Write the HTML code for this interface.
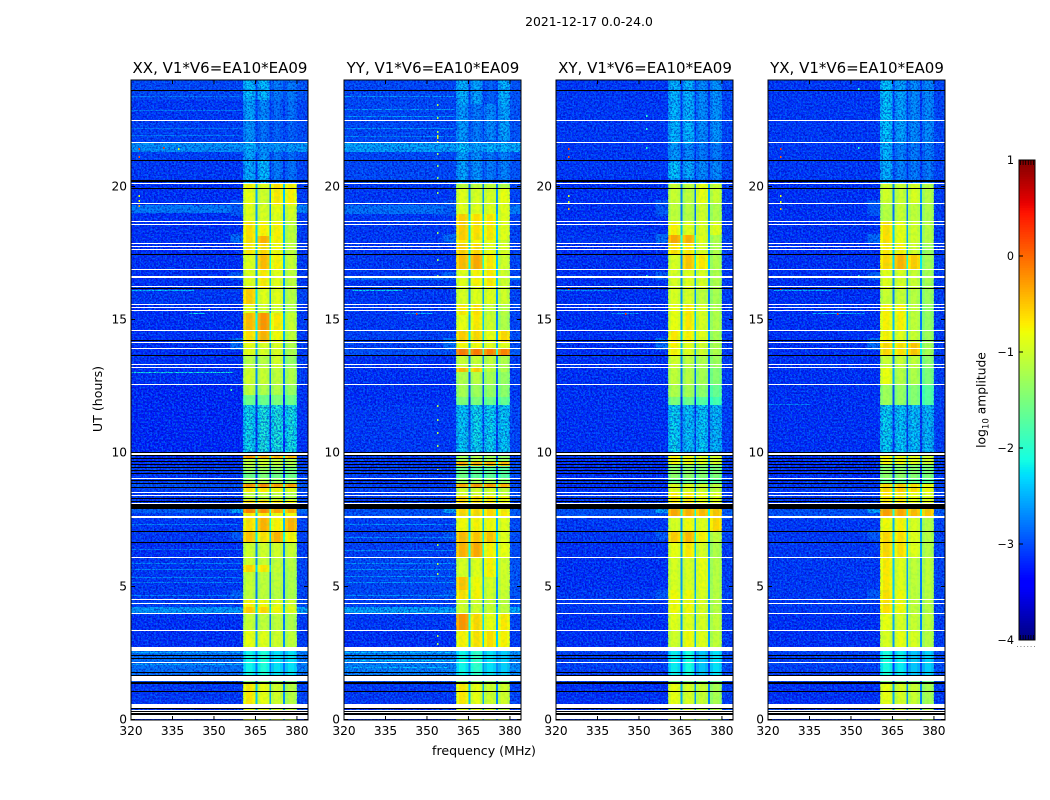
<!DOCTYPE html>
<html lang="en">
<head>
<meta charset="utf-8">
<title>2021-12-17 0.0-24.0</title>
<style>
html,body{margin:0;padding:0;background:#fff;}
svg{display:block;font-family:"DejaVu Sans","Liberation Sans",sans-serif;fill:#000;}
</style>
</head>
<body>
<svg id="figure" xmlns="http://www.w3.org/2000/svg" width="1050" height="800" viewBox="0 0 1050 800">
<defs>
<filter id="speckle" x="0" y="0" width="100%" height="100%" color-interpolation-filters="sRGB">
<feTurbulence type="fractalNoise" baseFrequency="0.55" numOctaves="2" seed="7"/>
<feColorMatrix type="matrix" values="0 0 0 0 0  0 0 0 0 0.04  0 0 0 0 0.7  5 0 0 0 -2.2"/>
</filter>
<filter id="speckle-light" x="0" y="0" width="100%" height="100%" color-interpolation-filters="sRGB">
<feTurbulence type="fractalNoise" baseFrequency="0.55" numOctaves="2" seed="23"/>
<feColorMatrix type="matrix" values="0 0 0 0 0  0 0 0 0 0.58  0 0 0 0 1  5 0 0 0 -2.3"/>
</filter>
<filter id="speckle-band" x="0" y="0" width="100%" height="100%" color-interpolation-filters="sRGB">
<feTurbulence type="fractalNoise" baseFrequency="0.3" numOctaves="2" seed="41"/>
<feColorMatrix type="matrix" values="0 0 0 0 0.2  0 0 0 0 0.9  0 0 0 0 0.4  5 0 0 0 -2.3"/>
</filter>
</defs>
<rect x="0" y="0" width="1050" height="800" fill="#fff"/>
<text x="589" y="26" font-size="12.4" text-anchor="middle">2021-12-17 0.0-24.0</text>
<text transform="translate(102,399) rotate(-90)" font-size="12.6" text-anchor="middle">UT (hours)</text>
<text x="484" y="755" font-size="12.6" text-anchor="middle">frequency (MHz)</text>
<text transform="translate(985.5,400) rotate(-90)" font-size="12.3" text-anchor="middle">log<tspan font-size="8.6" dy="3">10</tspan><tspan dy="-3"> amplitude</tspan></text>
<g id="panels"></g>
<g id="colorbar"></g>
</svg>
<script>
// Panel titles and axis ticks
const panelTitles = ["XX, V1*V6=EA10*EA09", "YY, V1*V6=EA10*EA09", "XY, V1*V6=EA10*EA09", "YX, V1*V6=EA10*EA09"];
const freqTicks = [320, 335, 350, 365, 380];
const hourTicks = [0, 5, 10, 15, 20];
const colorbarTicks = [1, 0, -1, -2, -3, -4];
const freqRange = [320, 384];
const hourRange = [0, 24];
const levelRange = [-4, 1];

// Frequency layout of the four active sub-bands (MHz)
const subbandEdges = [[360.5, 365], [365.7, 370], [370.7, 375], [375.7, 380]];
const subbandShape = [-0.02, 0.13, 0.13, 0.03];
const skirtStart = 356;
const gapDrop = 1.6;

// Time rows: [top hour, background, band 1, band 2, band 3, band 4] log10 amplitude
const rowsXX = [
[24,-3.05,-2.45,-2.45,-2.85,-2.85],[23.25,-3.15,-2.6,-2.75,-2.95,-2.9],[22.5,-3.1,-2.7,-2.9,-3,-3],
[21.638,-2.6,-2.5,-2.7,-2.65,-2.65],[21.3,-3.1,-2.6,-2.7,-2.9,-2.95],[21,-3.15,-2.55,-2.45,-2.85,-2.9],
[20.138,-3.2,-0.85,-1,-0.75,-0.85],[19.95,-3.2,-0.95,-1.1,-0.8,-0.85],[19.313,-2.75,-1,-1.05,-0.95,-1.05],
[19.013,-3.2,-1,-1.05,-1,-1.1],[18.713,-3.2,-0.75,-0.85,-0.85,-1.2],[18.15,-3.2,-0.75,-0.5,-0.85,-1.2],
[17.888,-3.2,-0.8,-0.7,-0.9,-1.2],[17.475,-3.2,-1,-0.55,-0.85,-1.15],[16.913,-3.2,-1,-0.8,-1,-1.2],
[16.2,-3.15,-0.65,-1,-1,-1.25],[15.6,-3.2,-1,-1.1,-1.1,-1.3],[15.263,-3.2,-0.55,-0.35,-0.8,-1.15],
[14.625,-3.2,-0.75,-0.5,-0.9,-1.2],[14.175,-3.2,-0.95,-1.05,-1.05,-1.3],[13.688,-3.2,-1.25,-1.25,-1.1,-1.45],
[13.238,-3.2,-1.1,-1.15,-1.2,-1.3],[12.6,-3.25,-1.2,-1.3,-1.3,-1.45],[12.188,-3.25,-1.7,-1.7,-1.6,-1.7],
[11.813,-3.25,-2.3,-2.2,-2.2,-2.25],[10.05,-3.2,-2.2,-2.2,-2.2,-2.2],
[9.9,-3.2,-0.35,-0.45,-0.5,-0.5],[9.825,-3.2,-1.2,-1.1,-1.2,-1.3],[9.525,-3.1,-1.4,-1.4,-1.5,-1.6],
[9.3,-3.15,-1.7,-1.6,-1.7,-1.7],[9.075,-3.1,-1.4,-1.3,-1.4,-1.5],[8.85,-3,-0.35,-0.3,-0.4,-0.4],
[8.7,-3.1,-0.8,-0.8,-0.9,-1],[8.55,-3.15,-1.2,-1.2,-1.2,-1.3],[8.25,-3.15,-0.7,-0.7,-0.8,-0.9],
[7.913,-2.9,-0.25,-0.3,-0.45,-0.5],[7.763,-3.1,-0.8,-0.8,-0.9,-0.9],[7.575,-3.15,-0.75,-0.5,-0.85,-0.5],
[7.088,-3.15,-0.6,-0.75,-0.5,-0.85],[6.675,-3.2,-1.1,-1.1,-1.1,-1.15],[6.113,-3.15,-1.1,-1.15,-1.2,-1.25],
[5.813,-3.15,-0.7,-0.8,-1.15,-1.25],[5.55,-3.15,-1.15,-1.2,-1.2,-1.3],[4.875,-3.15,-1.2,-1.2,-1.25,-1.3],
[4.538,-3.1,-0.85,-0.9,-1,-1.1],[4.238,-2.55,-0.65,-0.7,-0.9,-1],[3.975,-3.2,-1.15,-1.2,-1.2,-1.3],
[3.375,-3.2,-0.95,-1,-1.1,-1.2],[2.738,-2.8,-2.3,-2.2,-2.4,-2.4],[1.65,-3,-1.5,-1.5,-1.5,-1.6],
[1.388,-3.15,-0.8,-0.95,-1.1,-1.25],[0.6,-3.2,-1,-1,-1.1,-1.2]
];
const rowsYY = [
[24,-3.05,-2.5,-2.6,-3,-2.5],[23.1,-3.05,-2.65,-2.85,-2.75,-2.6],[21.75,-3.05,-2.7,-2.8,-2.9,-2.75],
[21.638,-2.5,-2.4,-2.6,-2.5,-2.5],[21.3,-3.05,-2.6,-2.7,-2.85,-2.8],[20.138,-3.15,-1.2,-1.2,-1.2,-1.3],
[19.95,-3.15,-1,-1.05,-1.05,-0.95],[19.313,-2.8,-1,-1,-1,-1],[18.975,-3.15,-0.65,-0.75,-0.8,-1],
[18,-3.15,-0.8,-0.9,-0.95,-1.1],[17.888,-3.15,-0.65,-0.7,-0.95,-1.05],[17.475,-3.15,-0.55,-0.45,-0.8,-1.1],
[16.913,-3.15,-1,-0.85,-0.8,-1.1],[16.65,-2.8,-1,-0.85,-0.8,-1.1],[16.5,-3.15,-1,-0.85,-0.8,-1.1],
[16.275,-3.15,-1.05,-1,-1,-1.1],[15.6,-3.15,-0.8,-0.75,-1.15,-1.25],[15.188,-3.15,-0.95,-0.8,-1.1,-1.3],
[14.625,-3.1,-0.65,-0.7,-0.95,-0.7],[14.175,-3.1,-0.9,-0.9,-1,-1],[13.95,-3,-0.2,-0.2,-0.25,-0.25],
[13.688,-3.2,-1.15,-1.15,-1.2,-1.3],[13.238,-3.2,-0.55,-0.65,-1.2,-1.3],[13.05,-3.2,-1.3,-1.25,-1.35,-1.45],
[12.6,-3.2,-1.35,-1.4,-1.45,-1.5],[12.113,-3.2,-1.6,-1.6,-1.7,-1.75],[11.813,-3.15,-2.4,-2.3,-2.35,-2.4],
[10.05,-3.1,-2.2,-2.2,-2.2,-2.2],[9.9,-3.15,-1.4,-1.3,-1.4,-1.5],[9.675,-3.15,-0.45,-0.5,-0.5,-0.55],
[9.525,-3.1,-1.7,-1.8,-1.8,-1.85],[9.075,-3.15,-1.4,-1.4,-1.4,-1.5],[8.85,-3.1,-0.45,-0.35,-0.4,-0.5],
[8.7,-3.1,-1.1,-1.1,-1.1,-1.2],[8.4,-3.1,-0.7,-0.75,-0.8,-0.9],[7.913,-3,-0.7,-0.7,-0.7,-0.8],
[7.613,-3.1,-0.9,-0.85,-0.9,-1],[7.088,-3.1,-0.55,-0.6,-0.6,-1],[6.675,-3.1,-0.5,-0.45,-0.85,-0.95],
[6.113,-3.05,-1.05,-1,-0.85,-1.1],[5.363,-3.05,-0.6,-0.9,-1.05,-1.1],[4.875,-3.05,-0.75,-0.85,-1.1,-1.15],
[4.538,-3.1,-1.1,-1.1,-1.15,-1.2],[4.238,-2.5,-1.1,-1.1,-1.15,-1.2],[3.975,-3.15,-0.35,-0.7,-0.95,-0.8],
[3.375,-3.2,-0.85,-0.75,-0.75,-0.85],[2.738,-2.7,-2.3,-2.1,-2.4,-2.5],[1.65,-3,-1.5,-1.5,-1.5,-1.6],
[1.388,-3.15,-0.8,-0.95,-1.1,-1.1],[0.6,-3.2,-1,-1,-1.1,-1.2]
];
const rowsXY = [
[24,-3.15,-2.5,-2.5,-2.75,-2.7],[21.6,-3.15,-2.65,-2.75,-2.85,-2.85],[20.925,-3.15,-2.4,-2.55,-2.75,-2.75],
[20.325,-3.2,-2.6,-2.7,-2.85,-2.85],[20.138,-3.2,-1.15,-1.2,-0.95,-1.15],[19.388,-3.2,-1.2,-1.25,-1.1,-1.3],
[18.713,-3.2,-0.85,-1,-1.05,-1],[18.2,-3.15,-0.45,-0.5,-1,-1.3],[17.888,-3.2,-0.75,-0.8,-1.05,-1.3],
[17.475,-3.2,-1.05,-0.6,-0.8,-1.3],[16.913,-3.2,-1.05,-1,-1.05,-1.3],[16.125,-3.2,-1.05,-1.05,-1.2,-1.35],
[15.6,-3.2,-0.95,-0.8,-1.05,-1.3],[14.625,-3.2,-0.8,-0.85,-1,-1.35],[14.175,-3.2,-0.85,-1,-1.1,-1.3],
[13.688,-3.2,-1.1,-1.2,-1.3,-1.4],[13.238,-3.2,-1.2,-1.25,-1.35,-1.55],[12.6,-3.2,-1.3,-1.35,-1.5,-1.75],
[12.113,-3.2,-1.6,-1.7,-1.85,-1.95],[11.813,-3.2,-2.35,-2.45,-2.4,-2.5],[10.05,-3.2,-2.3,-2.3,-2.3,-2.3],
[9.9,-3.2,-0.85,-0.9,-1,-1.05],[9.6,-3.2,-1.5,-1.5,-1.55,-1.6],[9.075,-3.15,-1.7,-1.7,-1.75,-1.8],
[8.85,-3.2,-1,-1,-1.1,-1.2],[8.55,-3.15,-0.8,-0.8,-0.95,-1],[7.913,-3,-0.45,-0.5,-0.55,-0.6],
[7.613,-3.15,-1.05,-0.9,-1,-0.7],[7.088,-3.15,-0.65,-0.55,-0.85,-1.2],[6.675,-3.2,-0.95,-0.8,-1.05,-1.3],
[6.113,-3.2,-1.05,-1.05,-0.95,-1.25],[4.875,-3.15,-0.9,-0.9,-1.05,-1.25],[3.975,-3.2,-1,-1,-1.05,-1.2],
[3.375,-3.2,-1.1,-0.9,-1,-1.2],[2.738,-3.1,-2.35,-2.25,-2.55,-2.4],[1.65,-3.1,-1.6,-1.6,-1.6,-1.7],
[1.388,-3.2,-0.95,-1.05,-1.15,-1.35],[0.6,-3.2,-1.1,-1.1,-1.2,-1.3]
];
const rowsYX = [
[24,-3.15,-2.4,-2.6,-2.75,-2.75],[21.6,-3.15,-2.5,-2.8,-2.85,-2.85],[20.25,-3.2,-2.6,-2.8,-2.85,-2.85],
[20.138,-3.2,-1.1,-1.15,-1.05,-1.25],[19.388,-3.2,-1.25,-1.15,-1.2,-1.3],[18.713,-3.2,-0.75,-0.95,-1.1,-1.25],
[17.888,-3.2,-0.8,-0.85,-1.1,-1.4],[17.475,-3.2,-0.7,-0.5,-0.65,-1.35],[16.913,-3.2,-1,-1.05,-1.15,-1.35],
[16.125,-3.2,-1.15,-1.15,-1.25,-1.4],[15.6,-3.2,-0.85,-0.85,-1.2,-1.45],[14.625,-3.2,-0.85,-1,-1.15,-1.4],
[14.175,-3.2,-0.7,-0.75,-0.6,-1.35],[13.688,-3.2,-1.15,-1.15,-1.2,-1.5],[13.238,-3.2,-0.95,-1.25,-1.3,-1.6],
[12.6,-3.2,-1.4,-1.45,-1.55,-1.85],[11.813,-3.2,-2.35,-2.4,-2.45,-2.5],[10.05,-3.2,-2.3,-2.3,-2.3,-2.3],
[9.9,-3.2,-0.85,-0.9,-1,-1.1],[9.6,-3.2,-1.5,-1.5,-1.55,-1.6],[9.075,-3.15,-1.7,-1.7,-1.75,-1.8],
[8.85,-3.15,-0.7,-0.65,-0.75,-0.9],[8.55,-3.15,-0.8,-0.8,-0.95,-1],[7.913,-3,-0.4,-0.45,-0.55,-0.6],
[7.613,-3.15,-0.9,-0.85,-1.05,-1.25],[7.088,-3.15,-0.7,-0.75,-1,-1.25],[6.113,-3.15,-0.8,-1,-1.2,-1.2],
[4.875,-3.15,-0.75,-0.9,-1.2,-1.25],[3.975,-3.2,-0.95,-1.05,-1.15,-1.2],[3.375,-3.2,-1.05,-0.95,-1.05,-1.25],
[2.738,-3.1,-2.25,-2.35,-2.55,-2.5],[1.65,-3.1,-1.6,-1.6,-1.6,-1.7],[1.388,-3.2,-0.95,-1.05,-1.15,-1.35],
[0.6,-3.2,-1.1,-1.1,-1.2,-1.3]
];

// Thin background features: [top hour, bottom hour, start MHz, end MHz, level]
const stripesXX = [
[23.4,23.3625,320,360,-2.75],[22.875,22.8375,320,360,-2.75],[22.2,22.1625,320,360,-2.75],[21.938,21.9,320,360,-2.75],
[16.125,16.0875,320,343,-2.3],[13.05,13.0125,320,357,-2.1],[15.263,15.225,341,347,-2.2],
[7.35,7.3125,320,360,-2.7],[6.413,6.375,320,360,-2.75],[5.888,5.85,320,360,-2.7],[5.663,5.625,320,360,-2.7],
[5.363,5.325,320,360,-2.7],[5.175,5.1375,320,360,-2.7],[4.688,4.65,320,360,-2.7],
[2.438,2.4,320,360,-2.45],[2.1,2.06,320,360,-2.45],[2.55,2.5,320,360,-2.4]
];
const stripesYY = [
[23.4,23.3625,320,360,-2.55],[22.913,22.875,320,360,-2.55],[22.663,22.625,320,360,-2.55],[22.2,22.1625,320,360,-2.55],
[21.9,21.8625,320,360,-2.65],[16.125,16.0875,323,341,-2.2],[15.263,15.225,342,352,-2.4],
[7.35,7.3125,320,360,-2.6],[6.863,6.825,320,360,-2.6],[6.375,6.3375,320,360,-2.6],[5.888,5.85,320,360,-2.6],
[5.663,5.625,320,360,-2.6],[5.4,5.3625,320,360,-2.6],[5.175,5.1375,320,360,-2.6],[4.688,4.65,320,360,-2.6],
[2.55,2.5,320,360,-2.3],[2.25,2.2,320,360,-2.3],[2,1.95,320,360,-2.3]
];
const stripesXY = [[16.125,16.0875,320,340,-2.6],[15.263,15.225,340,350,-2.5]];
const stripesYX = [[16.125,16.0875,322,343,-2.4],[15.263,15.225,336,355,-2.4],[11.85,11.8125,320,335,-2.7]];

// Isolated bright cells: [MHz, hour, level]
const spotsXX = [[331.6,21.488,0.3],[337,21.45,-1],[322.8,21.45,0.2],[322.8,21.15,0.1],[322.8,19.7,-0.9],[322.8,19.5,-0.9],[322.8,19.3,-0.3],[348,15.4,-1],[356,12.4,-1.8]];
const spotsYY = [[353.6,23.1,-1.2],[353.6,22.6,-1.2],[353.6,22.1,-1.2],[353.6,21.95,-0.9],[353.6,21.85,-0.9],[353.6,21.7,-0.9],[353.6,21.25,-1.3],[353.6,20.8,-1.3],[353.6,20.35,-1.3],[353.6,19.8,-1.3],[353.6,18.3,-1.3],[353.6,17.3,-1.3],[353.6,16.7,-1.3],[346,15.25,0.3],[353.6,11.8,-1.2],[353.6,11.3,-1.2],[353.6,10.8,-1.2],[353.6,10.3,-1.2],[353.6,9.4,-1],[353.6,6.6,-1.3],[353.6,5.9,-1.2],[353.6,5.5,-1.2],[353.6,3.2,-1.2],[353.6,2.9,-1.2]];
const spotsXY = [[324.4,21.45,0.3],[324.4,21.15,0.1],[324.4,19.7,-0.9],[324.4,19.45,-0.9],[324.4,19.2,-0.4],[352.5,22.7,-2],[352.5,22.2,-2],[352.5,21.5,-2],[345,15.25,0.3],[324.4,16.2,0.2],[352.5,16.7,-2]];
const spotsYX = [[324.4,21.45,0.3],[324.4,21.15,0.1],[324.4,19.7,-0.9],[324.4,19.45,-0.9],[324.4,19.2,-0.4],[352.5,21.5,-2],[345,15.25,0.3],[324.4,16.2,0.2],[352.5,16.7,-2],[352.5,23.7,-2]];

// Channels climbing toward the band edge: [top hour, bottom hour, level]
const skirtRows = [[18.225,17.888,-2.85],[16.8,16.5,-2.9],[14.325,13.875,-2.8],[7.95,7.763,-2.5],[7.125,6.75,-2.95],[4.875,4.5,-2.95],[19.5,18.9,-2.95]];

// Flagged (missing) data: one-sample white lines, wider white blocks, black equivalents
const whiteLineHours = [22.5,21.675,20.138,19.388,18.713,18.6,17.888,17.775,17.663,16.913,16.275,15.6,15.488,15.375,14.625,14.175,13.95,13.35,13.238,12.6,9.075,8.55,8.438,8.138,6.113,4.538,4.388,4.013,3.375,2.175,0.375,0.3];
const whiteBlocks = [[16.65,16.575],[10.013,9.938],[7.65,7.575],[2.738,2.588],[1.65,1.463],[0.6,0.45],[0.188,0.038]];
const blackLineHours = [23.625,21,19.95,17.475,16.2,14.25,13.688,10.05,9.938,9.825,9.713,9.6,9.488,9.375,9.263,9,8.888,8.738,8.325,8.213,7.088,6.675,2.438,2.325,1.8,1.688,1.088,0.45,0.338];
const blackBlocks = [[20.25,20.175],[8.1,7.913],[1.425,1.35],[0.263,0.188]];
const sampleHours = 0.0375;

const panelRows = [rowsXX, rowsYY, rowsXY, rowsYX];
const panelStripes = [stripesXX, stripesYY, stripesXY, stripesYX];
const panelSpots = [spotsXX, spotsYY, spotsXY, spotsYX];
const panelKeys = ["xx", "yy", "xy", "yx"];
const panelLefts = [131, 344, 556, 768];
const panelWidth = 177;
const panelTop = 80;
const panelBottom = 720;

const SVGNS = "http://www.w3.org/2000/svg";
function make(tag, parent, attrs) {
  const el = document.createElementNS(SVGNS, tag);
  for (const k in attrs) el.setAttribute(k, attrs[k]);
  parent.appendChild(el);
  return el;
}
function yScale(hour) {
  return Math.round(panelBottom - (hour - hourRange[0]) / (hourRange[1] - hourRange[0]) * (panelBottom - panelTop));
}
function xScale(left, mhz) {
  return left + (mhz - freqRange[0]) / (freqRange[1] - freqRange[0]) * panelWidth;
}
function jetPart(p, pts) {
  for (let i = 1; i < pts.length; i++) {
    if (p <= pts[i][0]) {
      const a = pts[i - 1], b = pts[i];
      return a[1] + (b[1] - a[1]) * (p - a[0]) / (b[0] - a[0]);
    }
  }
  return pts[pts.length - 1][1];
}
function colorScale(level) {
  const p = Math.max(0, Math.min(1, (level - levelRange[0]) / (levelRange[1] - levelRange[0])));
  const r = jetPart(p, [[0, 0], [0.35, 0], [0.66, 1], [0.89, 1], [1, 0.5]]);
  const g = jetPart(p, [[0, 0], [0.125, 0], [0.375, 1], [0.64, 1], [0.91, 0], [1, 0]]);
  const b = jetPart(p, [[0, 0.5], [0.11, 1], [0.34, 1], [0.65, 0], [1, 0]]);
  return "rgb(" + Math.round(r * 255) + "," + Math.round(g * 255) + "," + Math.round(b * 255) + ")";
}

const panelsRoot = document.getElementById("panels");
panelTitles.forEach(function (title, idx) {
  const left = panelLefts[idx];
  const rows = panelRows[idx];
  const g = make("g", panelsRoot, {});
  
  

  const heat = make("g", g, { "shape-rendering": "crispEdges" });
  
  

  rows.forEach(function (row, ri) {
    const top = yScale(row[0]);
    const bottom = yScale(ri + 1 < rows.length ? rows[ri + 1][0] : hourRange[0]);
    const h = bottom - top;
    if (h <= 0) return;
    const bg = row[1];
    const spans = [[freqRange[0], subbandEdges[0][0], bg], [subbandEdges[3][1], freqRange[1], bg + 0.08]];
    subbandEdges.forEach(function (edge, bi) {
      const level = row[2 + bi];
      const width = (edge[1] - edge[0]) / subbandShape.length;
      subbandShape.forEach(function (offset, si) {
        spans.push([edge[0] + si * width, edge[0] + (si + 1) * width, level + offset]);
      });
      if (bi < subbandEdges.length - 1) {
        spans.push([edge[1], subbandEdges[bi + 1][0], Math.max(bg, level - gapDrop)]);
      }
    });
    spans.forEach(function (span) {
      const x0 = xScale(left, span[0]);
      const cell = make("rect", heat, {
        x: x0.toFixed(2), y: top,
        width: (xScale(left, span[1]) - x0).toFixed(2), height: h,
        fill: colorScale(span[2])
      });
      
      
    });
  });

  skirtRows.forEach(function (s) {
    const x0 = xScale(left, skirtStart);
    const cell = make("rect", heat, {
      x: x0.toFixed(2), y: yScale(s[0]),
      width: (xScale(left, subbandEdges[0][0]) - x0).toFixed(2),
      height: yScale(s[1]) - yScale(s[0]), fill: colorScale(s[2])
    });
    
    
  });

  panelStripes[idx].forEach(function (s) {
    const x0 = xScale(left, s[2]);
    const cell = make("rect", heat, {
      x: x0.toFixed(2), y: yScale(s[0]),
      width: (xScale(left, s[3]) - x0).toFixed(2),
      height: Math.max(1, yScale(s[1]) - yScale(s[0])), fill: colorScale(s[4])
    });
    
    
  });

  // fine speckle over the noise-dominated regions
  const noiseRegions = [
    [freqRange[0], subbandEdges[0][0], hourRange[1], hourRange[0]],
    [subbandEdges[3][1], freqRange[1], hourRange[1], hourRange[0]],
    [subbandEdges[0][0], subbandEdges[3][1], hourRange[1], 20.138],
    [subbandEdges[0][0], subbandEdges[3][1], 11.813, 10.05]
  ];
  ["speckle", "speckle-light"].forEach(function (filterId) {
    noiseRegions.forEach(function (region) {
      const x0 = xScale(left, region[0]);
      const noise = make("rect", g, {
        x: x0.toFixed(2), y: yScale(region[2]),
        width: (xScale(left, region[1]) - x0).toFixed(2),
        height: yScale(region[3]) - yScale(region[2]),
        filter: "url(#" + filterId + ")", opacity: filterId === "speckle" ? 0.6 : 0.5
      });
      
      
    });
  });
  const bandX0 = xScale(left, subbandEdges[0][0]);
  const bandNoise = make("rect", g, {
    x: bandX0.toFixed(2), y: yScale(20.138),
    width: (xScale(left, subbandEdges[3][1]) - bandX0).toFixed(2),
    height: yScale(hourRange[0]) - yScale(20.138),
    filter: "url(#speckle-band)", opacity: 0.12
  });
  
  

  const over = make("g", g, { "shape-rendering": "crispEdges" });
  
  

  panelSpots[idx].forEach(function (s) {
    const spot = make("rect", over, {
      x: xScale(left, s[0]).toFixed(2), y: yScale(s[1]), width: 1.5, height: 2, fill: colorScale(s[2])
    });
    
    
  });

  whiteLineHours.forEach(function (t) {
    const flag = make("rect", over, { x: left, y: yScale(t), width: panelWidth, height: Math.max(1, yScale(t - sampleHours) - yScale(t)), fill: "#fff" });
    
    
  });
  whiteBlocks.forEach(function (b) {
    const flag = make("rect", over, { x: left, y: yScale(b[0]), width: panelWidth, height: yScale(b[1]) - yScale(b[0]), fill: "#fff" });
    
    
  });
  blackLineHours.forEach(function (t) {
    const flag = make("rect", over, { x: left, y: yScale(t), width: panelWidth, height: Math.max(1, yScale(t - sampleHours) - yScale(t)), fill: "#000" });
    
    
  });
  blackBlocks.forEach(function (b) {
    const flag = make("rect", over, { x: left, y: yScale(b[0]), width: panelWidth, height: yScale(b[1]) - yScale(b[0]), fill: "#000" });
    
    
  });

  const spine = make("rect", g, { x: left, y: panelTop, width: panelWidth, height: panelBottom - panelTop, fill: "none", stroke: "#000", "stroke-width": 1 });
  
  

  const titleEl = make("text", g, { x: left + panelWidth / 2 + 0.5, y: panelTop - 7, "font-size": 15, "text-anchor": "middle" });
  titleEl.textContent = title;
  
  

  freqTicks.forEach(function (f) {
    const x = xScale(left, f);
    const tickB = make("line", g, { x1: x, x2: x, y1: panelBottom, y2: panelBottom - 4, stroke: "#000", "stroke-width": 1 });
    
    
    const tickT = make("line", g, { x1: x, x2: x, y1: panelTop, y2: panelTop + 4, stroke: "#000", "stroke-width": 1 });
    
    
    const label = make("text", g, { x: x, y: panelBottom + 15, "font-size": 12.2, "text-anchor": "middle" });
    label.textContent = String(f);
    
    
  });
  hourTicks.forEach(function (t) {
    const y = yScale(t) - 0.5;
    const tickL = make("line", g, { x1: left, x2: left + 4, y1: y, y2: y, stroke: "#000", "stroke-width": 1 });
    
    
    const tickR = make("line", g, { x1: left + panelWidth, x2: left + panelWidth - 4, y1: y, y2: y, stroke: "#000", "stroke-width": 1 });
    
    
    const label = make("text", g, { x: left - 4, y: y + 4, "font-size": 12.2, "text-anchor": "end" });
    label.textContent = String(t);
    
    
  });
});

// Colorbar
const cbar = document.getElementById("colorbar");
const cbarLeft = 1019, cbarWidth = 16, cbarTop = 160, cbarBottom = 640;
function cbarY(level) {
  return cbarBottom - (level - levelRange[0]) / (levelRange[1] - levelRange[0]) * (cbarBottom - cbarTop);
}
for (let v = levelRange[1]; v > levelRange[0] + 1e-6; v -= 0.025) {
  const seg = make("rect", cbar, {
    x: cbarLeft, y: cbarY(v).toFixed(2), width: cbarWidth,
    height: (cbarY(v - 0.025) - cbarY(v) + 0.5).toFixed(2), fill: colorScale(v - 0.0125)
  });
  
  
}
const cbarFrame = make("rect", cbar, { x: cbarLeft, y: cbarTop, width: cbarWidth, height: cbarBottom - cbarTop, fill: "none", stroke: "#000", "stroke-width": 1 });


[0, 1, 2, 3, 4, 5].forEach(function (i) {
  const x = cbarLeft + 1.5 + i * 2.6;
  const tickTop = make("line", cbar, { x1: x, x2: x, y1: cbarTop, y2: cbarTop + 5, stroke: "#000", "stroke-width": 0.8 });
  
  
  const tickBottom = make("line", cbar, { x1: x, x2: x, y1: cbarBottom, y2: cbarBottom - 5, stroke: "#000", "stroke-width": 0.8 });
  
  
  const dot = make("rect", cbar, { x: cbarLeft - 2 + i * 3.4, y: 646, width: 1, height: 1, fill: "#888" });
  
  
});
colorbarTicks.forEach(function (t) {
  const y = cbarY(t);
  const tick = make("line", cbar, { x1: cbarLeft, x2: cbarLeft + 4, y1: y, y2: y, stroke: "#000", "stroke-width": 1 });
  
  
  const label = make("text", cbar, { x: cbarLeft - 5, y: y + 4, "font-size": 11.2, "text-anchor": "end" });
  label.textContent = String(t).replace("-", "\u2212");
  
  
});
</script>
</body>
</html>
